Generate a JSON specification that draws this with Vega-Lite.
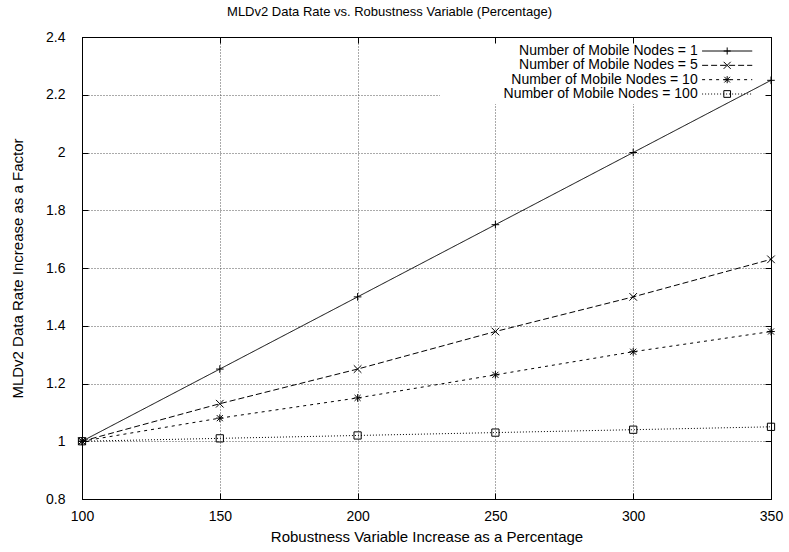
{
  "$schema": "https://vega.github.io/schema/vega-lite/v6.json",
  "width": 689,
  "height": 462,
  "autosize": {"type": "none"},
  "padding": {"left": 82, "top": 37, "right": 18, "bottom": 53},
  "background": "white",
  "config": {
    "font": "Liberation Sans",
    "view": {"stroke": "#000", "strokeWidth": 1},
    "axis": {
      "labelFont": "Liberation Sans",
      "titleFont": "Liberation Sans",
      "labelColor": "#000",
      "titleColor": "#000",
      "titleFontWeight": "normal",
      "domainColor": "#000",
      "tickColor": "#000",
      "labelFontSize": 14,
      "titleFontSize": 15,
      "labelFlush": false,
      "labelOverlap": false
    }
  },
  "title": {
    "text": "MLDv2 Data Rate vs. Robustness Variable (Percentage)",
    "font": "Liberation Sans",
    "fontSize": 13,
    "fontWeight": "normal",
    "color": "#000",
    "anchor": "middle",
    "frame": "group",
    "offset": 11,
    "dx": -37
  },
  "data": {
    "values": [
      {"x": 100, "y": 1.0, "series": "Number of Mobile Nodes = 1"},
      {"x": 150, "y": 1.25, "series": "Number of Mobile Nodes = 1"},
      {"x": 200, "y": 1.5, "series": "Number of Mobile Nodes = 1"},
      {"x": 250, "y": 1.75, "series": "Number of Mobile Nodes = 1"},
      {"x": 300, "y": 2.0, "series": "Number of Mobile Nodes = 1"},
      {"x": 350, "y": 2.25, "series": "Number of Mobile Nodes = 1"},
      {"x": 100, "y": 1.0, "series": "Number of Mobile Nodes = 5"},
      {"x": 150, "y": 1.13, "series": "Number of Mobile Nodes = 5"},
      {"x": 200, "y": 1.25, "series": "Number of Mobile Nodes = 5"},
      {"x": 250, "y": 1.38, "series": "Number of Mobile Nodes = 5"},
      {"x": 300, "y": 1.5, "series": "Number of Mobile Nodes = 5"},
      {"x": 350, "y": 1.63, "series": "Number of Mobile Nodes = 5"},
      {"x": 100, "y": 1.0, "series": "Number of Mobile Nodes = 10"},
      {"x": 150, "y": 1.08, "series": "Number of Mobile Nodes = 10"},
      {"x": 200, "y": 1.15, "series": "Number of Mobile Nodes = 10"},
      {"x": 250, "y": 1.23, "series": "Number of Mobile Nodes = 10"},
      {"x": 300, "y": 1.31, "series": "Number of Mobile Nodes = 10"},
      {"x": 350, "y": 1.38, "series": "Number of Mobile Nodes = 10"},
      {"x": 100, "y": 1.0, "series": "Number of Mobile Nodes = 100"},
      {"x": 150, "y": 1.01, "series": "Number of Mobile Nodes = 100"},
      {"x": 200, "y": 1.02, "series": "Number of Mobile Nodes = 100"},
      {"x": 250, "y": 1.03, "series": "Number of Mobile Nodes = 100"},
      {"x": 300, "y": 1.04, "series": "Number of Mobile Nodes = 100"},
      {"x": 350, "y": 1.05, "series": "Number of Mobile Nodes = 100"}
    ]
  },
  "layer": [
    {
      "mark": {"type": "rect", "fill": "white", "stroke": null},
      "encoding": {
        "x": {"datum": 230, "type": "quantitative", "axis": null},
        "x2": {"datum": 350},
        "y": {"datum": 2.17, "type": "quantitative", "axis": null, "scale": {"domain": [0.8, 2.4], "nice": false, "zero": false}},
        "y2": {"datum": 2.4}
      }
    },
    {
      "mark": {"type": "line", "color": "#000", "strokeWidth": 1},
      "encoding": {
        "x": {
          "field": "x", "type": "quantitative",
          "scale": {"domain": [100, 350], "nice": false, "zero": false},
          "axis": {
            "orient": "bottom", "values": [100, 150, 200, 250, 300, 350],
            "grid": true, "gridColor": "#555", "gridDash": [1, 2],
            "tickSize": -6, "labelPadding": 16, "domain": true,
            "title": "Robustness Variable Increase as a Percentage",
            "titlePadding": 6, "zindex": 0
          }
        },
        "y": {
          "field": "y", "type": "quantitative",
          "scale": {"domain": [0.8, 2.4], "nice": false, "zero": false},
          "axis": {
            "orient": "left", "values": [0.8, 1, 1.2, 1.4, 1.6, 1.8, 2, 2.2, 2.4],
            "format": "~g",
            "grid": true, "gridColor": "#555", "gridDash": [1, 2],
            "tickSize": -6, "labelPadding": 23, "domain": true,
            "title": "MLDv2 Data Rate Increase as a Factor",
            "titlePadding": 20, "zindex": 0
          }
        },
        "detail": {"field": "series"},
        "strokeDash": {
          "field": "series", "type": "nominal",
          "scale": {
            "domain": ["Number of Mobile Nodes = 1", "Number of Mobile Nodes = 5", "Number of Mobile Nodes = 10", "Number of Mobile Nodes = 100"],
            "range": [[1, 0], [6, 3], [3, 4], [1, 2]]
          },
          "legend": null
        }
      }
    },
    {
      "mark": {"type": "point", "filled": false, "color": "#000", "strokeWidth": 1, "size": 58, "opacity": 1},
      "encoding": {
        "x": {"field": "x", "type": "quantitative", "axis": null},
        "y": {"field": "y", "type": "quantitative", "axis": null, "scale": {"domain": [0.8, 2.4], "nice": false, "zero": false}},
        "shape": {
          "field": "series", "type": "nominal",
          "scale": {
            "domain": ["Number of Mobile Nodes = 1", "Number of Mobile Nodes = 5", "Number of Mobile Nodes = 10", "Number of Mobile Nodes = 100"],
            "range": [
              "M-1,0L1,0M0,-1L0,1",
              "M-1,-1L1,1M-1,1L1,-1",
              "M-1,0L1,0M0,-1L0,1M-0.8,-0.8L0.8,0.8M-0.8,0.8L0.8,-0.8",
              "M-0.95,-0.95L0.95,-0.95L0.95,0.95L-0.95,0.95Z"
            ]
          },
          "legend": null
        }
      }
    },
    {
      "mark": {"type": "point", "filled": false, "color": "#000", "size": 10, "opacity": 0},
      "encoding": {
        "x": {
          "field": "x", "type": "quantitative",
          "axis": {"orient": "top", "values": [100, 150, 200, 250, 300, 350], "labels": false, "tickSize": -6, "grid": false, "domain": true, "title": null, "zindex": 1}
        },
        "y": {
          "field": "y", "type": "quantitative",
          "scale": {"domain": [0.8, 2.4], "nice": false, "zero": false},
          "axis": {"orient": "right", "values": [0.8, 1, 1.2, 1.4, 1.6, 1.8, 2, 2.2, 2.4], "labels": false, "tickSize": -6, "grid": false, "domain": true, "title": null, "zindex": 1}
        }
      }
    },
    {
      "transform": [{"filter": "datum.x == 100"}],
      "mark": {"type": "text", "align": "right", "baseline": "middle", "font": "Liberation Sans", "fontSize": 14, "color": "#000"},
      "encoding": {
        "x": {"datum": 323.4, "type": "quantitative", "axis": null},
        "y": {
          "field": "series", "type": "nominal", "axis": null,
          "scale": {"type": "point", "padding": 0, "range": [14, 57],
            "domain": ["Number of Mobile Nodes = 1", "Number of Mobile Nodes = 5", "Number of Mobile Nodes = 10", "Number of Mobile Nodes = 100"]}
        },
        "text": {"field": "series"}
      }
    },
    {
      "transform": [{"filter": "datum.x == 100"}],
      "mark": {"type": "rule", "color": "#000", "strokeWidth": 1},
      "encoding": {
        "x": {"datum": 325, "type": "quantitative", "axis": null},
        "x2": {"datum": 343.2},
        "y": {
          "field": "series", "type": "nominal", "axis": null,
          "scale": {"type": "point", "padding": 0, "range": [14, 57],
            "domain": ["Number of Mobile Nodes = 1", "Number of Mobile Nodes = 5", "Number of Mobile Nodes = 10", "Number of Mobile Nodes = 100"]}
        },
        "strokeDash": {"field": "series", "type": "nominal", "legend": null}
      }
    },
    {
      "transform": [{"filter": "datum.x == 100"}],
      "mark": {"type": "point", "filled": false, "color": "#000", "strokeWidth": 1, "size": 50, "opacity": 1},
      "encoding": {
        "x": {"datum": 334.1, "type": "quantitative", "axis": null},
        "y": {
          "field": "series", "type": "nominal", "axis": null,
          "scale": {"type": "point", "padding": 0, "range": [14, 57],
            "domain": ["Number of Mobile Nodes = 1", "Number of Mobile Nodes = 5", "Number of Mobile Nodes = 10", "Number of Mobile Nodes = 100"]}
        },
        "shape": {"field": "series", "type": "nominal", "legend": null}
      }
    }
  ],
  "resolve": {
    "scale": {"y": "independent"},
    "axis": {"x": "independent", "y": "independent"}
  }
}
